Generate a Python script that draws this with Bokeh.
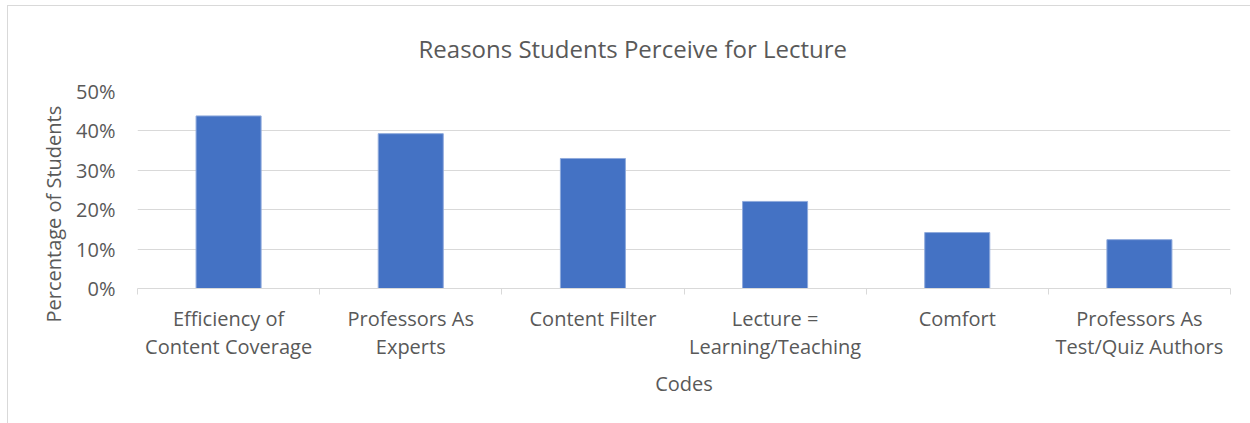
from bokeh.plotting import figure
from bokeh.models import (Range1d, FixedTicker, NumeralTickFormatter, Title, ColumnDataSource)
from bokeh.embed import file_html
from bokeh.resources import INLINE

# ---- data ----
categories = [
    "Efficiency of\nContent Coverage",
    "Professors As\nExperts",
    "Content Filter",
    "Lecture =\nLearning/Teaching",
    "Comfort",
    "Professors As\nTest/Quiz Authors",
]
percentages = [0.438, 0.393, 0.330, 0.221, 0.142, 0.124]
y_ticks = [0.0, 0.1, 0.2, 0.3, 0.4, 0.5]
title_text = "Reasons Students Perceive for Lecture"
x_title = "Codes"
y_title = "Percentage of Students"

FONT = "Open Sans"
GREY = "#595959"

n = len(categories)
centers = [i + 0.5 for i in range(n)]
src = ColumnDataSource(dict(x=centers, top=percentages))

p = figure(width=1243, height=418, output_backend="svg", toolbar_location=None,
           x_range=Range1d(0, n), y_range=Range1d(0, 0.5),
           min_border_left=129, min_border_right=21, min_border_top=84,
           min_border_bottom=136, tools="")
p.margin = (5, 0, 0, 7)

p.vbar(x="x", top="top", width=0.357, source=src,
       fill_color="#4472C4", line_color="#8FAADC", line_width=1)

# main title (shifted so it is centred over the whole chart area)
p.title.text = title_text
p.title.align = "left"
p.title.vertical_align = "top"
p.title.offset = 281
p.title.standoff = 50
p.title.text_font = FONT
p.title.text_font_size = "24px"
p.title.text_font_style = "normal"
p.title.text_color = GREY

# x axis
xa = p.xaxis[0]
xa.ticker = FixedTicker(ticks=centers, minor_ticks=list(range(n + 1)))
xa.major_label_overrides = {c: lab for c, lab in zip(centers, categories)}
xa.major_tick_line_color = None
xa.minor_tick_line_color = "#d9d9d9"
xa.minor_tick_out = 6
xa.minor_tick_in = 0
xa.axis_line_color = "#d9d9d9"
xa.major_label_text_font = FONT
xa.major_label_text_font_size = "20px"
xa.major_label_text_color = GREY
xa.major_label_text_line_height = 1.07
xa.major_label_standoff = 10
xa.axis_label = x_title
xa.axis_label_text_font = FONT
xa.axis_label_text_font_size = "20px"
xa.axis_label_text_font_style = "normal"
xa.axis_label_text_color = GREY
xa.axis_label_standoff = 7

# y axis
ya = p.yaxis[0]
ya.ticker = FixedTicker(ticks=y_ticks)
ya.formatter = NumeralTickFormatter(format="0%")
ya.axis_line_color = None
ya.major_tick_line_color = None
ya.minor_tick_line_color = None
ya.major_label_text_font = FONT
ya.major_label_text_font_size = "20px"
ya.major_label_text_color = GREY
ya.major_label_standoff = 16

# y axis title, placed as a vertical title in the left panel
ytitle = Title(text=y_title, align="left", offset=-34, standoff=13,
               text_font=FONT, text_font_size="20px", text_font_style="normal",
               text_color=GREY)
p.add_layout(ytitle, "left")

p.xgrid.grid_line_color = None
p.ygrid.grid_line_color = "#d9d9d9"
p.ygrid.grid_line_width = 1
p.ygrid.ticker = FixedTicker(ticks=y_ticks)

p.outline_line_color = None
p.background_fill_color = "white"
p.border_fill_color = "white"
p.styles = {"border-left": "1px solid #d9d9d9", "border-top": "1px solid #d9d9d9",
            "box-sizing": "border-box"}

open("out.html", "w").write(file_html(p, INLINE))
